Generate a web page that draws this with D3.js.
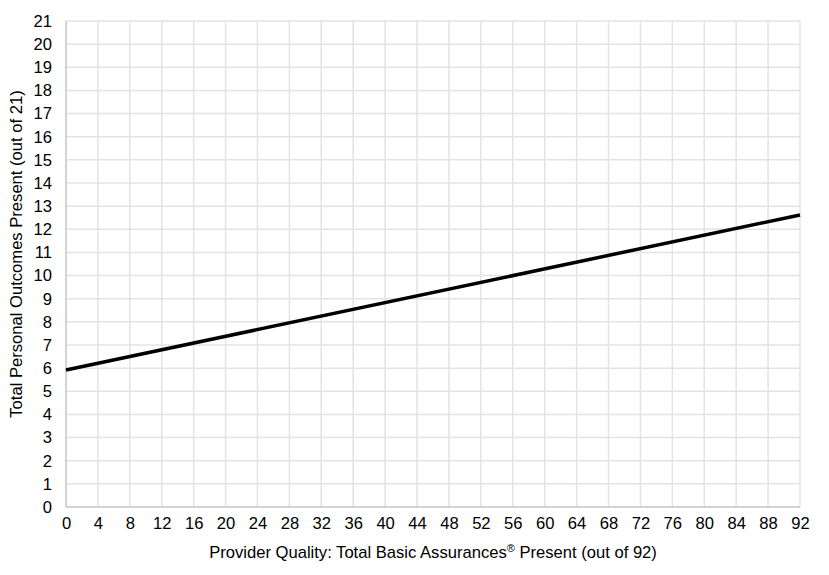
<!DOCTYPE html>
<html><head><meta charset="utf-8">
<script src="https://cdn.jsdelivr.net/npm/d3@7"></script>
<style>body{margin:0;background:#fff;} text{font-family:"Liberation Sans",Arial,sans-serif;}</style>
</head><body>
<svg id="c" width="829" height="575"></svg>
<script>
const xTicks = d3.range(0, 93, 4);
const yTicks = d3.range(0, 22, 1);
const lineX = [0, 92];
const lineY = [5.92, 12.62];
const xTitleA = "Provider Quality: Total Basic Assurances";
const xTitleSup = "\u00AE";
const xTitleB = " Present (out of 92)";
const yTitle = "Total Personal Outcomes Present (out of 21)";

const svg = d3.select("#c");
const m = {l:66, r:829-800, t:21, b:575-507};
const W = 829 - m.l - m.r, H = 575 - m.t - m.b;
const x = d3.scaleLinear().domain([0,92]).range([m.l, m.l+W]);
const y = d3.scaleLinear().domain([0,21]).range([m.t+H, m.t]);

const g = svg.append("g");
g.selectAll(".vg").data(xTicks.slice(1)).join("line")
 .attr("x1",d=>x(d)).attr("x2",d=>x(d)).attr("y1",y(0)).attr("y2",y(21))
 .attr("stroke","#e3e3e3").attr("stroke-width",1.5);
g.selectAll(".hg").data(yTicks.slice(1)).join("line")
 .attr("x1",x(0)).attr("x2",x(92)).attr("y1",d=>y(d)).attr("y2",d=>y(d))
 .attr("stroke","#e3e3e3").attr("stroke-width",1.5);
g.append("line").attr("x1",x(0)).attr("x2",x(92)).attr("y1",y(0)).attr("y2",y(0)).attr("stroke","#c4c4c4").attr("stroke-width",1.5);
g.append("line").attr("x1",x(0)).attr("x2",x(0)).attr("y1",y(0)).attr("y2",y(21)).attr("stroke","#c4c4c4").attr("stroke-width",1.5);

const fs = 16.6;
const xa = svg.append("g").attr("transform",`translate(0,${y(0)})`)
 .call(d3.axisBottom(x).tickValues(xTicks).tickSize(0).tickPadding(10).tickFormat(d3.format("d")));
xa.select(".domain").remove();
xa.selectAll("text").attr("font-size",fs).attr("fill","#000").attr("font-family","Liberation Sans, Arial, sans-serif");
const ya = svg.append("g").attr("transform",`translate(${x(0)},0)`)
 .call(d3.axisLeft(y).tickValues(yTicks).tickSize(0).tickPadding(14).tickFormat(d3.format("d")));
ya.select(".domain").remove();
ya.selectAll("text").attr("font-size",fs).attr("fill","#000").attr("font-family","Liberation Sans, Arial, sans-serif");

const pts = lineX.map((d,i)=>[d,lineY[i]]);
svg.append("path").datum(pts)
 .attr("d", d3.line().x(d=>x(d[0])).y(d=>y(d[1])))
 .attr("fill","none").attr("stroke","#000").attr("stroke-width",3.5);

const xt = svg.append("text").attr("x",(x(0)+x(92))/2).attr("y",558).attr("text-anchor","middle")
 .attr("font-size",fs);
xt.append("tspan").text(xTitleA);
xt.append("tspan").attr("font-size",11).attr("dy",-6).text(xTitleSup);
xt.append("tspan").attr("dy",6).text(xTitleB);
svg.append("text").attr("transform",`translate(22,254) rotate(-90)`)
 .attr("text-anchor","middle").attr("font-size",fs).text(yTitle);
</script>
</body></html>
